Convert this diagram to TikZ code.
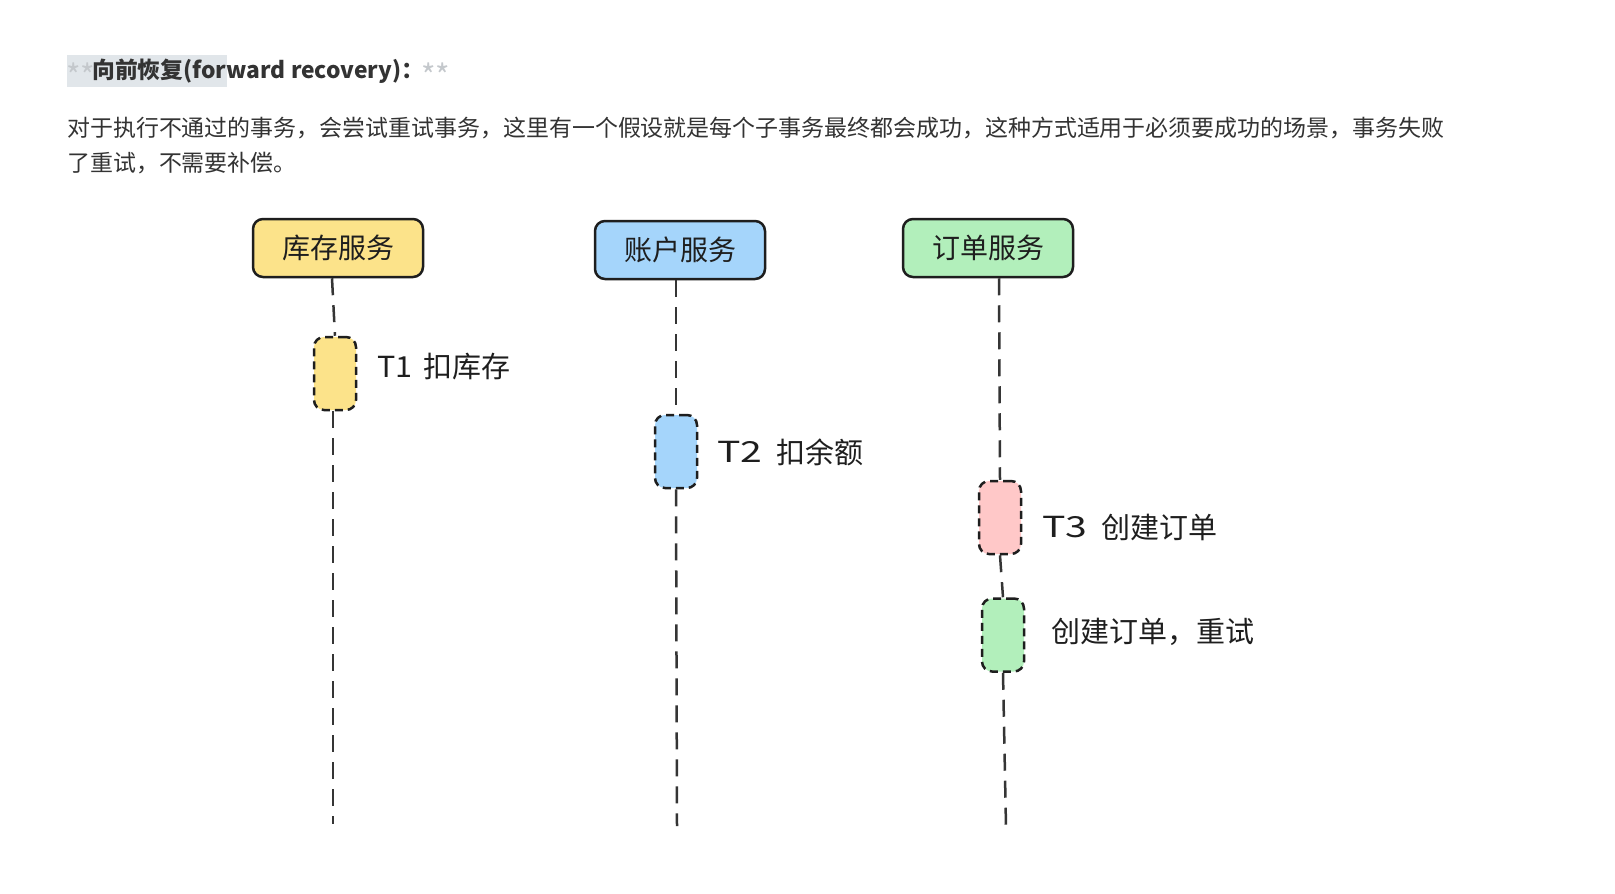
\documentclass[tikz,border=0pt]{standalone}
\usepackage{fontspec}
\setmainfont{Noto Sans CJK SC}
\definecolor{ink}{HTML}{1E1E1E}
\definecolor{txt}{HTML}{333333}
\definecolor{star}{HTML}{C4C8CC}
\definecolor{hl}{HTML}{E1E6EA}
\definecolor{yel}{HTML}{FCE38A}
\definecolor{blu}{HTML}{A5D5FB}
\definecolor{grn}{HTML}{B2EFBB}
\definecolor{pnk}{HTML}{FFC8C8}
\tikzset{
  svc/.style={draw=ink, line width=2.5pt, rounded corners=10pt, minimum width=170pt,
    minimum height=58pt, inner sep=0pt, text=ink, font=\fontsize{28}{28}\selectfont},
  act/.style={draw=ink, line width=2.5pt, rounded corners=10pt, dash pattern=on 8pt off 5pt,
    minimum width=42pt, minimum height=73pt, inner sep=0pt},
  life/.style={draw=ink!90, line width=2.5pt, dash pattern=on 17pt off 10pt},
  lbl/.style={anchor=west, inner sep=0pt, text=ink, font=\fontsize{29}{29}\selectfont},
  tag/.style={anchor=west, inner sep=0pt, text=ink, font=\fontsize{29}{29}\selectfont, xscale=1.35},
  para/.style={anchor=west, inner sep=0pt, text=txt, font=\fontsize{22.95}{24}\selectfont},
  stars/.style={anchor=west, inner sep=0pt, text=star, font=\fontsize{31}{31}\selectfont},
}
\begin{document}
\begin{tikzpicture}[x=1pt,y=-1pt]
\useasboundingbox[fill=white] (0,0) rectangle (1615,894);

% heading
\fill[hl] (67,55) rectangle (227,87);
\node[stars] (s1) at (66,75) {**};
\node[anchor=west, inner sep=0pt, text=txt, font=\fontsize{22.8}{23}\selectfont\bfseries] (head) at (92,71) {向前恢复(forward recovery)：};
\node[stars] (s2) at (421,75) {**};

% paragraph
\node[para] (p1) at (67,128) {对于执行不通过的事务，会尝试重试事务，这里有一个假设就是每个子事务最终都会成功，这种方式适用于必须要成功的场景，事务失败};
\node[para] (p2) at (67,163) {了重试，不需要补偿。};

% services
\node[svc, fill=yel] (inv) at (338,248) {库存服务};
\node[svc, fill=blu] (acc) at (680,250) {账户服务};
\node[svc, fill=grn] (ord) at (988,248) {订单服务};

% activations
\node[act, fill=yel] (t1) at (335,373.5) {};
\node[act, fill=blu] (t2) at (676,451.5) {};
\node[act, fill=pnk] (t3) at (1000,517.5) {};
\node[act, fill=grn] (t4) at (1003,635) {};

% lifeline ends
\coordinate (e1) at (333,824);
\coordinate (e2) at (677,826);
\coordinate (e3) at (1006,827);

% lifelines
\draw[life] ([xshift=-6pt]inv.south) -- (t1.north);
\draw[life] ([xshift=-2pt]t1.south) -- (e1);
\draw[life] ([xshift=-4pt]acc.south) -- (t2.north);
\draw[life] (t2.south) -- (e2);
\draw[life] ([xshift=11pt]ord.south) -- (t3.north);
\draw[life] (t3.south) -- (t4.north);
\draw[life] (t4.south) -- (e3);

% labels
\node[tag, xscale=0.78] (l1a) at (377,367) {T1};
\node[lbl] (l1b) at (423,367) {扣库存};
\node[tag] (l2a) at (717,452) {T2};
\node[lbl] (l2b) at (776,452) {扣余额};
\node[tag] (l3a) at (1042,527) {T3};
\node[lbl] (l3b) at (1101,527) {创建订单};
\node[lbl] (l4) at (1051,632) {创建订单，重试};
\end{tikzpicture}
\end{document}
